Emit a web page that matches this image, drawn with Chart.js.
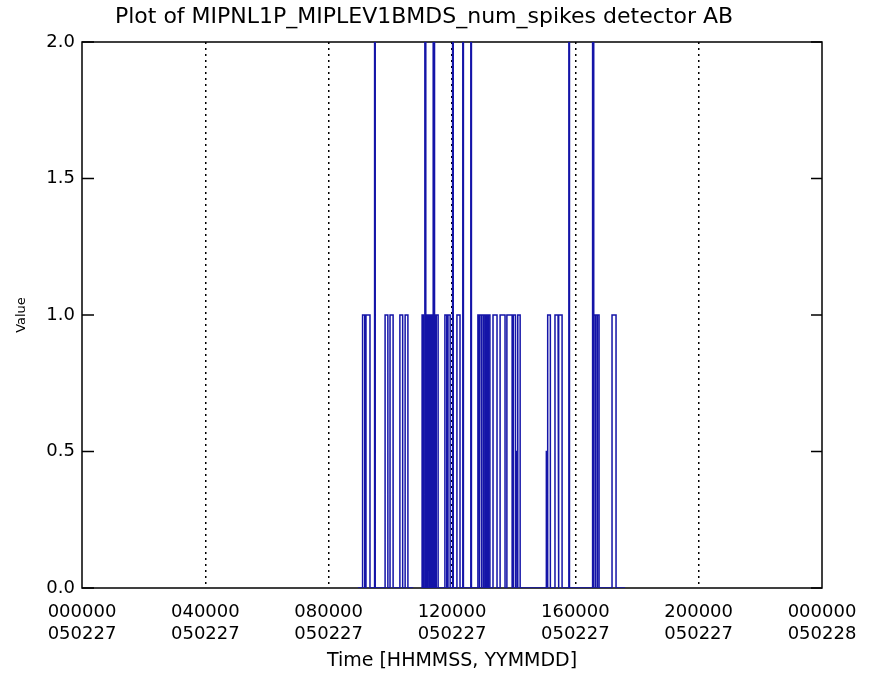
<!DOCTYPE html>
<html>
<head>
<meta charset="utf-8">
<title>MIPNL1P_MIPLEV1BMDS_num_spikes detector AB</title>
<script src="https://cdn.jsdelivr.net/npm/chart.js@4"></script>
<style>
  html, body { margin: 0; padding: 0; background: #fff; }
  #wrap { width: 873px; height: 687px; position: relative; }
</style>
</head>
<body>
<div id="wrap"><canvas id="spikeChart"></canvas></div>
<script>
// x ticks (hours since 050227 000000) and their two-line labels
const tickHours = [0, 4, 8, 12, 16, 20, 24];
const tickTimes = ["000000", "040000", "080000", "120000", "160000", "200000", "000000"];
const tickDates = ["050227", "050227", "050227", "050227", "050227", "050227", "050228"];

// stretches of time where data exists (baseline at 0)
const segStart = [8.95, 11.00];
const segEnd   = [10.74, 17.61];

// spikes: start hour, end hour, value
const pulseStart = [9.10, 9.21, 9.49, 9.83, 9.99, 10.31, 10.48,
  11.03, 11.12, 11.17, 11.22, 11.27, 11.32, 11.39, 11.44, 11.49,
  11.77, 11.87, 12.02, 12.16, 12.35, 12.61,
  12.84, 12.90, 12.97, 13.04, 13.11, 13.18,
  13.33, 13.56, 13.78, 13.99, 14.08, 14.14,
  15.06, 15.11, 15.34, 15.47, 15.79,
  16.56, 16.60, 16.66, 16.72, 17.19];
const pulseEnd = [9.17, 9.34, 9.51, 9.92, 10.09, 10.40, 10.57,
  11.07, 11.15, 11.21, 11.26, 11.31, 11.36, 11.42, 11.48, 11.55,
  11.83, 11.94, 12.04, 12.26, 12.37, 12.63,
  12.88, 12.95, 13.02, 13.09, 13.16, 13.23,
  13.46, 13.72, 13.95, 14.06, 14.12, 14.21,
  15.09, 15.19, 15.44, 15.57, 15.81,
  16.59, 16.65, 16.71, 16.77, 17.32];
const pulseValue = [1, 1, 2, 1, 1, 1, 1,
  1, 2, 1, 1, 1, 1, 2, 1, 1,
  1, 1, 2, 1, 2, 2,
  1, 1, 1, 1, 1, 1,
  1, 1, 1, 1, 0.5, 1,
  0.5, 1, 1, 1, 2,
  2, 1, 1, 1, 1];

const yTicks = [0, 0.5, 1, 1.5, 2];

(function(){
  const points = [];
  segStart.forEach((s, si) => {
    const e = segEnd[si];
    if (si > 0) points.push({ x: (segEnd[si-1] + s) / 2, y: null });
    points.push({ x: s, y: 0 });
    pulseStart.forEach((ps, i) => {
      if (ps < s || ps > e) return;
      points.push({ x: ps, y: 0 });
      points.push({ x: ps, y: pulseValue[i] });
      points.push({ x: pulseEnd[i], y: pulseValue[i] });
      points.push({ x: pulseEnd[i], y: 0 });
    });
    points.push({ x: e, y: 0 });
  });

  // frame with inward ticks on both y sides
  const framePlugin = {
    id: 'frame',
    beforeDatasetsDraw(chart){
      const { ctx, chartArea: a, scales } = chart;
      ctx.save();
      ctx.strokeStyle = '#000';
      ctx.lineWidth = 1.5;
      ctx.strokeRect(a.left, a.top, a.right - a.left, a.bottom - a.top);
      yTicks.forEach(v => {
        const y = scales.y.getPixelForValue(v);
        ctx.beginPath();
        ctx.moveTo(a.left, y); ctx.lineTo(a.left + 12, y);
        ctx.moveTo(a.right, y); ctx.lineTo(a.right - 11, y);
        ctx.stroke();
      });
      ctx.restore();
    }
  };

  const font = "'DejaVu Sans', 'Liberation Sans', sans-serif";

  new Chart(document.getElementById('spikeChart'), {
    type: 'line',
    data: {
      datasets: [{
        label: 'num_spikes',
        data: points,
        borderColor: '#1414a8',
        borderWidth: 1.5,
        pointRadius: 0,
        spanGaps: false,
        tension: 0
      }]
    },
    options: {
      responsive: true,
      maintainAspectRatio: false,
      animation: false,
      layout: { padding: { left: 0, right: 25, top: 0, bottom: 0 } },
      scales: {
        x: {
          type: 'linear',
          min: 0,
          max: 24,
          afterBuildTicks: s => { s.ticks = tickHours.map(v => ({ value: v })); },
          afterFit: s => { s.height = 99; },
          grid: {
            drawTicks: false,
            tickLength: 0,
            lineWidth: 1.5,
            color: c => (c.tick && (c.tick.value === 0 || c.tick.value === 24)) ? 'rgba(0,0,0,0)' : '#000'
          },
          border: { display: false, dash: [2, 4] },
          ticks: {
            padding: 14,
            maxRotation: 0,
            color: '#000',
            font: { family: font, size: 18 },
            callback: v => {
              const i = tickHours.indexOf(v);
              return i < 0 ? '' : [tickTimes[i], tickDates[i]];
            }
          },
          title: {
            display: true,
            text: 'Time [HHMMSS, YYMMDD]',
            color: '#000',
            font: { family: font, size: 19 },
            padding: { top: 0, bottom: 15 }
          }
        },
        y: {
          min: 0,
          max: 2,
          afterBuildTicks: s => { s.ticks = yTicks.map(v => ({ value: v })); },
          afterFit: s => { s.width = 82; },
          grid: { display: false, drawTicks: false, tickLength: 0 },
          border: { display: false },
          ticks: {
            padding: 7,
            color: '#000',
            font: { family: font, size: 18 },
            callback: v => Number(v).toFixed(1)
          },
          title: {
            display: true,
            text: 'Value',
            color: '#000',
            font: { family: font, size: 13 },
            padding: { top: 14, bottom: 0 }
          }
        },
        // empty right-hand spacer so the plot frame ends where the original does
        yRight: {
          position: 'right',
          min: 0,
          max: 2,
          afterFit: s => { s.width = 26; },
          grid: { display: false, drawTicks: false },
          border: { display: false },
          ticks: { display: false }
        }
      },
      plugins: {
        legend: { display: false },
        tooltip: { enabled: false },
        title: {
          display: true,
          text: 'Plot of MIPNL1P_MIPLEV1BMDS_num_spikes detector AB',
          color: '#000',
          font: { family: font, size: 22, weight: 'normal' },
          padding: { top: 4, bottom: 11.6 }
        }
      }
    },
    plugins: [framePlugin]
  });
})();
</script>
</body>
</html>
